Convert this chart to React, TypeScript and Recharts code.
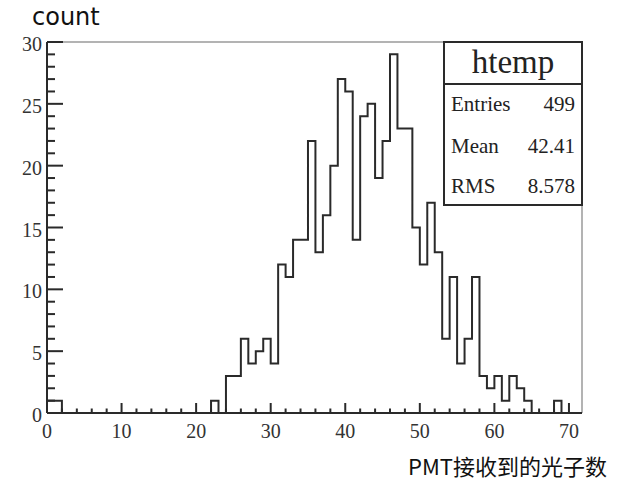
import { Line, LineChart, ReferenceLine, XAxis, YAxis } from "recharts"

// photon counts per unit-wide bin, bin i covers [i, i+1)
const counts = [
  1, 1, 0, 0, 0, 0, 0, 0, 0, 0,
  0, 0, 0, 0, 0, 0, 0, 0, 0, 0,
  0, 0, 1, 0, 3, 3, 6, 4, 5, 6,
  4, 12, 11, 14, 14, 22, 13, 16, 20, 27,
  26, 14, 24, 25, 19, 22, 29, 23, 23, 15,
  12, 17, 13, 6, 11, 4, 6, 11, 3, 2,
  3, 1, 3, 2, 1, 0, 0, 0, 1, 0,
  0, 0,
]

const xTicks = [
  0, 2, 4, 6, 8, 10, 12, 14, 16, 18, 20, 22, 24, 26, 28, 30, 32, 34,
  36, 38, 40, 42, 44, 46, 48, 50, 52, 54, 56, 58, 60, 62, 64, 66, 68, 70,
]
const yTicks = [
  0, 1, 2, 3, 4, 5, 6, 7, 8, 9, 10, 11, 12, 13, 14, 15, 16, 17, 18, 19,
  20, 21, 22, 23, 24, 25, 26, 27, 28, 29, 30,
]

const statLabels = ["Entries", "Mean", "RMS"]
const statValues = ["499", "42.41", "8.578"]

const X_MAX = 71.75
const Y_MAX = 30
const INK = "#2a2a2a"
const SERIF = "'Liberation Serif', 'Times New Roman', serif"

const data = counts.map((c, i) => ({ x: i, y: c }))

function XTick(props: any) {
  const { x, y, payload } = props
  const v = payload.value as number
  const major = v % 10 === 0
  return (
    <g>
      <line x1={x} x2={x} y1={y} y2={y - (major ? 10 : 4.5)} stroke={INK} strokeWidth={2} />
      {major && (
        <text x={x} y={y + 25} textAnchor="middle" fontFamily={SERIF} fontSize={20} fill="#333">
          {v}
        </text>
      )}
    </g>
  )
}

function YTick(props: any) {
  const { x, y, payload } = props
  const v = payload.value as number
  const major = v % 5 === 0
  return (
    <g>
      <line x1={x} x2={x + (major ? 16 : 8)} y1={y} y2={y} stroke={INK} strokeWidth={2} />
      {major && (
        <text x={x - 5} y={y + 9} textAnchor="end" fontFamily={SERIF} fontSize={20} fill="#333">
          {v}
        </text>
      )}
    </g>
  )
}

function StatsBox() {
  const rowY = [104, 146, 186]
  return (
    <div
      style={{
        position: "absolute",
        left: 443,
        top: 41,
        width: 140,
        height: 165,
        border: `2px solid ${INK}`,
        boxSizing: "border-box",
        background: "#fff",
        fontFamily: SERIF,
        color: "#222",
      }}
    >
      <div
        style={{
          height: 40,
          borderBottom: `2px solid ${INK}`,
          fontSize: 33,
          lineHeight: "38px",
          textAlign: "center",
        }}
      >
        htemp
      </div>
      {statLabels.map((label, i) => (
        <div
          key={label}
          style={{
            position: "absolute",
            left: 6,
            right: 6,
            top: rowY[i] - 41 - 14,
            height: 24,
            fontSize: 21,
            lineHeight: "24px",
            display: "flex",
            justifyContent: "space-between",
          }}
        >
          <span>{label}</span>
          <span>{statValues[i]}</span>
        </div>
      ))}
    </div>
  )
}

export default function App() {
  return (
    <div style={{ position: "absolute", left: 0, top: 0, width: 619, height: 480, background: "#fff" }}>
      <LineChart width={619} height={480} data={data} margin={{ top: 42, right: 37, bottom: 0, left: 0 }}>
        <XAxis
          dataKey="x"
          type="number"
          domain={[0, X_MAX]}
          ticks={xTicks}
          interval={0}
          tickSize={0}
          tickMargin={0}
          height={67}
          axisLine={{ stroke: INK, strokeWidth: 2 }}
          tick={<XTick />}
        />
        <YAxis
          type="number"
          domain={[0, Y_MAX]}
          ticks={yTicks}
          interval={0}
          tickSize={0}
          tickMargin={0}
          width={47}
          axisLine={{ stroke: INK, strokeWidth: 2 }}
          tick={<YTick />}
        />
        <ReferenceLine y={Y_MAX} stroke="#9a9a9a" strokeWidth={1.5} />
        <ReferenceLine x={X_MAX} stroke="#9a9a9a" strokeWidth={1.5} />
        <Line
          dataKey="y"
          type="stepAfter"
          dot={false}
          activeDot={false}
          stroke={INK}
          strokeWidth={2}
          isAnimationActive={false}
        />
      </LineChart>
      <div
        style={{
          position: "absolute",
          left: 32,
          top: 2,
          fontFamily: "'DejaVu Sans', 'Noto Sans', sans-serif",
          fontSize: 24,
          lineHeight: "30px",
          color: "#111",
        }}
      >
        count
      </div>
      <div
        style={{
          position: "absolute",
          right: 12,
          top: 450,
          fontFamily: "'Noto Sans CJK SC', sans-serif",
          fontSize: 22,
          lineHeight: "30px",
          color: "#111",
        }}
      >
        PMT接收到的光子数
      </div>
      <StatsBox />
    </div>
  )
}
